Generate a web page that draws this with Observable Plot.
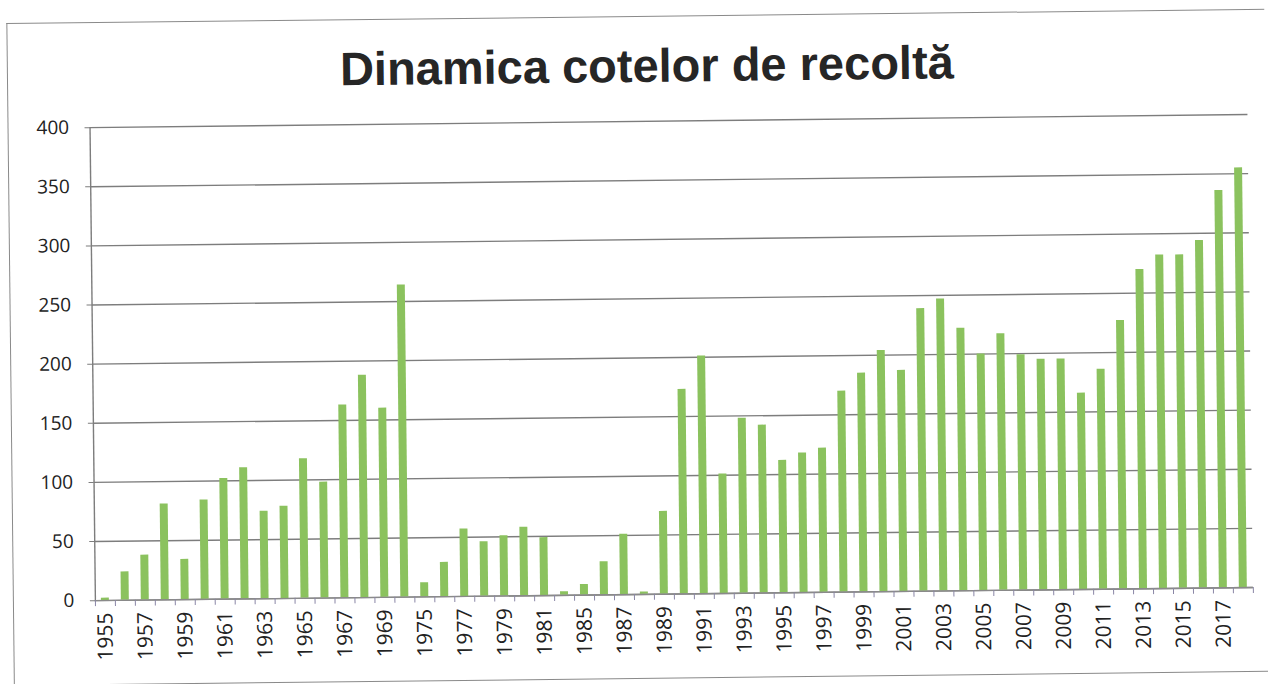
<!DOCTYPE html>
<html><head><meta charset="utf-8">
<script src="https://cdn.jsdelivr.net/npm/d3@7"></script>
<script src="https://cdn.jsdelivr.net/npm/@observablehq/plot@0.6"></script>
<style>
html,body{margin:0;padding:0;background:#fff;}
#page{position:relative;width:1268px;height:684px;overflow:hidden;transform:rotate(-0.65deg);transform-origin:634px 342px;}
#frame{position:absolute;left:10px;top:16px;width:1300px;height:663px;border-left:1.5px solid #8a8a8a;border-top:1.5px solid #8a8a8a;border-bottom:1.5px solid #8a8a8a;box-sizing:border-box;}
#title{position:absolute;left:16px;top:42px;width:1268px;text-align:center;font:bold 47px "Liberation Sans",Arial,sans-serif;line-height:47px;color:#262626;}
#chart{position:absolute;left:0;top:100px;}
</style></head>
<body><div id="page"><div id="frame"></div><div id="title">Dinamica cotelor de recoltă</div><div id="chart"></div></div>
<script>
const years = ["1955","1956","1957","1958","1959","1960","1961","1962","1963","1964","1965","1966","1967","1968","1969","1970",
  "1975","1976","1977","1978","1979","1980","1981","1984","1985","1986","1987","1988",
  "1989","1990","1991","1992","1993","1994","1995","1996","1997","1998","1999","2000","2001","2002","2003","2004",
  "2005","2006","2007","2008","2009","2010","2011","2012","2013","2014","2015","2016","2017","2018"];
const values = [2,24,38,81,34,84,102,111,74,78,118,98,163,188,160,264,
  12,29,57,46,51,58,49,3,9,28,51,2,
  70,173,201,101,148,142,112,118,122,170,185,204,187,239,247,222,
  200,217,199,195,195,166,186,227,270,282,282,294,336,355];
const tickLabels = ["1955","1957","1959","1961","1963","1965","1967","1969","1975","1977","1979","1981","1985","1987",
  "1989","1991","1993","1995","1997","1999","2001","2003","2005","2007","2009","2011","2013","2015","2017"];
const yTicks = [0,50,100,150,200,250,300,350,400];

const W = 1268, H = 584, ML = 92, MR = 18, MT = 21, MB = 90;
const step = (W - ML - MR) / years.length;
const data = years.map((year, i) => ({year, value: values[i]}));

const chart = Plot.plot({
  width: W, height: H, marginLeft: ML, marginRight: MR, marginTop: MT, marginBottom: MB,
  style: {fontFamily: '"Open Sans", sans-serif', color: "#222", background: "transparent", overflow: "visible"},
  x: {domain: years, paddingInner: 0.6, paddingOuter: 0.3, axis: null, label: null},
  y: {domain: [0, 400], axis: null, label: null},
  marks: [
    Plot.gridY(yTicks, {stroke: "#7d7d7d", strokeOpacity: 1, strokeWidth: 1.4}),
    Plot.barY(data, {x: "year", y: "value", fill: "#8bc25e"}),
    Plot.ruleY([0], {stroke: "#8a8a8a", strokeWidth: 1.4}),
    Plot.frame({anchor: "left", stroke: "#7d7d7d", strokeWidth: 1.4}),
    Plot.axisY(yTicks, {tickSize: 5, tickPadding: 16, fontSize: 19, stroke: "#7d7d7d", label: null}),
    Plot.axisX(years, {tickSize: 6, tickFormat: () => "", dx: -step / 2, stroke: "#8a86a6", label: null}),
    Plot.axisX([years[years.length - 1]], {tickSize: 6, tickFormat: () => "", dx: step / 2, stroke: "#8a86a6", label: null}),
    Plot.axisX(tickLabels, {tickSize: 0, tickPadding: 12, tickRotate: -90, fontSize: 21, label: null})
  ]
});
document.getElementById("chart").appendChild(chart);
</script>
</body></html>
